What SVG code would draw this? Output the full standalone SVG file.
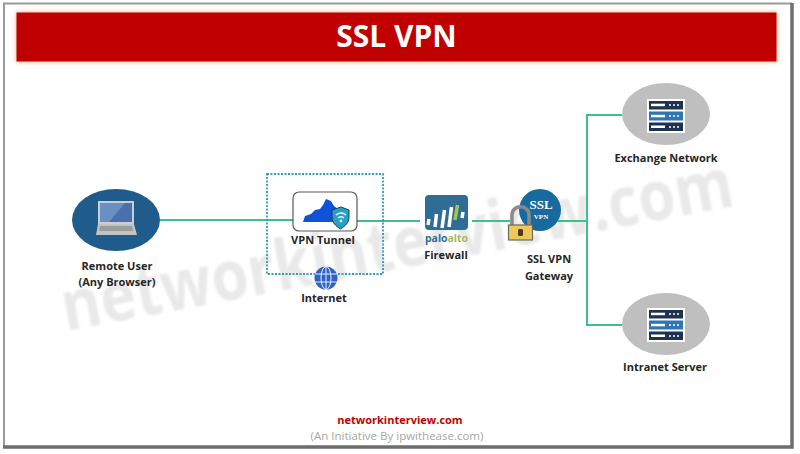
<svg xmlns="http://www.w3.org/2000/svg" width="800" height="454" viewBox="0 0 800 454">
<defs>
<style>
text{font-family:"Open Sans","Noto Sans","Liberation Sans",sans-serif}
.lb{font-size:11px;font-weight:700;fill:#262626;text-anchor:middle}
.cn{fill:none;stroke:#3fc08a;stroke-width:2}
.sv{fill:#bfbfbf}
.dk{fill:#1f3350}
.bl{fill:#2e75b6}
</style>
<filter id="glow" x="-3%" y="-20%" width="106%" height="140%"><feGaussianBlur stdDeviation="2"/></filter>
<filter id="soft" x="-5%" y="-20%" width="110%" height="140%"><feGaussianBlur stdDeviation="0.8"/></filter>
<g id="srv">
<rect x="-19" y="-17" width="38" height="34" fill="#fff"/>
<rect x="-17" y="-15" width="34" height="8.500" class="dk"/>
<rect x="-17" y="-4.500" width="34" height="9" class="bl"/>
<rect x="-17" y="6.500" width="34" height="8.500" class="dk"/>
<g fill="#fff">
<rect x="-15" y="-12.300" width="14" height="2.500"/><rect x="-15" y="-1.200" width="14" height="2.500"/><rect x="-15" y="9.500" width="14" height="2.500"/>
<circle cx="4" cy="-11" r="1"/><circle cx="8" cy="-11" r="1"/><circle cx="12" cy="-11" r="1"/>
<circle cx="4" cy="0" r="1"/><circle cx="8" cy="0" r="1"/><circle cx="12" cy="0" r="1"/>
<circle cx="4" cy="11" r="1"/><circle cx="8" cy="11" r="1"/><circle cx="12" cy="11" r="1"/>
</g>
</g>
</defs>
<rect width="800" height="454" fill="#fff"/>
<g id="frame" fill="none">
<path d="M4 448V3.500H792" stroke="#9a9a9c" stroke-width="2"/>
<path d="M792 3V447H3" stroke="#6e6e6e" stroke-width="3.500"/>
</g>
<text id="watermark" transform="translate(66 331) rotate(-10.600)" font-size="69" font-weight="700" fill="#e9e9e9" textLength="682" lengthAdjust="spacingAndGlyphs" filter="url(#soft)">networkinterview.com</text>
<g id="banner">
<rect x="16" y="12" width="761" height="50" fill="#f4b183" filter="url(#glow)"/>
<rect x="16.500" y="12.500" width="760" height="49" fill="#c00000"/>
<text x="396.500" y="47" font-size="30" font-weight="700" fill="#fff" text-anchor="middle">SSL VPN</text>
</g>
<g id="connectors">
<path class="cn" d="M160 220H293"/>
<path class="cn" d="M357 221H420"/>
<path class="cn" d="M472 221H510"/>
<path class="cn" d="M558 221H587"/>
<path class="cn" d="M622 115H587V325H622"/>
</g>
<g id="remote-user">
<ellipse cx="116" cy="220" rx="44" ry="31" fill="#1f5c8c"/>
<path d="M98 201H134V224H98Z" fill="#c9ced3"/>
<path d="M100 203H132V222H100Z" fill="#4a70ad"/>
<path d="M100 203H125L109 222H100Z" fill="#6a8fc4"/>
<path d="M98 224H134L137 235H96Z" fill="#c2c4c4"/>
<path d="M100 226H132L133 231H99Z" fill="#9c9e9e"/>
<text class="lb" x="117" y="270">Remote User</text>
<text class="lb" x="117" y="286">(Any Browser)</text>
</g>
<g id="vpn-tunnel">
<rect x="293" y="192" width="64" height="39" rx="6" fill="#fff" stroke="#595959" stroke-width="1.200"/>
<path d="M303 222L305 216L311 214L315 210L320 209L323 205L326 199L331 201L334 206L338 209L340 214L336 222Z" fill="#0f52d8"/>
<path d="M332 210L341 207L349 210V217C349 223 345 226 340.500 229C336 226 332 223 332 217Z" fill="#2a9fc4" stroke="#123f66" stroke-width="1"/>
<path d="M336 215Q341 211 346 215M338 218Q341 215.500 344 218" fill="none" stroke="#e6fbff" stroke-width="1.300"/>
<circle cx="341" cy="221" r="1.400" fill="#e6fbff"/>
<text class="lb" x="323" y="244">VPN Tunnel</text>
</g>
<rect id="tunnel-zone" x="267" y="174" width="116" height="100" fill="none" stroke="#2e9bc0" stroke-width="1.800" stroke-dasharray="2 1.500"/>
<g id="internet">
<circle cx="326" cy="278" r="11.500" fill="#2f62c4"/>
<g fill="none" stroke="#fff" stroke-width=".9">
<ellipse cx="326" cy="278" rx="5" ry="11.500"/>
<path d="M326 266.500V289.500M315 274H337M315 282H337"/>
</g>
<text class="lb" x="324" y="302">Internet</text>
</g>
<g id="firewall">
<rect x="425" y="195" width="43" height="35" rx="4" fill="#2f6d94"/>
<g fill="none" stroke-width="3.500">
<path d="M428 225L429 219M435 227L436.500 214M442 228L444.500 210M449 227L451.500 207M462 218L463 212" stroke="#fff"/>
<path d="M455 220L457.500 205" stroke="#a4c845"/>
</g>
<text x="425" y="242" font-size="10.500" font-weight="700" fill="#2f6d94" textLength="43">palo<tspan fill="#a9b85a">alto</tspan></text>
<text class="lb" x="446" y="259">Firewall</text>
</g>
<g id="ssl-vpn-gateway">
<circle cx="540" cy="210" r="21" fill="#17699e"/>
<text x="541" y="208.500" font-size="13" font-weight="700" fill="#fff" text-anchor="middle" style="font-family:'Liberation Serif',serif">SSL</text>
<text x="541" y="219" font-size="7" font-weight="700" fill="#fff" text-anchor="middle" style="font-family:'Liberation Serif',serif">VPN</text>
<path d="M512 226V215C512 204 529 204 529 215V226" fill="none" stroke="#8a8a8a" stroke-width="3.500"/>
<rect x="508.500" y="225" width="24" height="15" fill="#eec95a" stroke="#6b6b5a" stroke-width="1.200"/>
<rect x="518" y="229" width="5" height="7" rx="1.500" fill="#4a3d1e"/>
<text class="lb" x="549" y="263">SSL VPN</text>
<text class="lb" x="549" y="280">Gateway</text>
</g>
<g id="exchange-network">
<ellipse cx="666" cy="114" rx="44" ry="31" class="sv"/>
<use href="#srv" x="666" y="116"/>
<text class="lb" x="666" y="162">Exchange Network</text>
</g>
<g id="intranet-server">
<ellipse cx="666" cy="324" rx="44" ry="31" class="sv"/>
<use href="#srv" x="666" y="325"/>
<text class="lb" x="665" y="371">Intranet Server</text>
</g>
<g id="footer" text-anchor="middle">
<text x="400" y="424" font-size="11" font-weight="700" fill="#c00000">networkinterview.com</text>
<text x="397" y="440" font-size="11.500" fill="#a6a6a6">(An Initiative By ipwithease.com)</text>
</g>
</svg>
